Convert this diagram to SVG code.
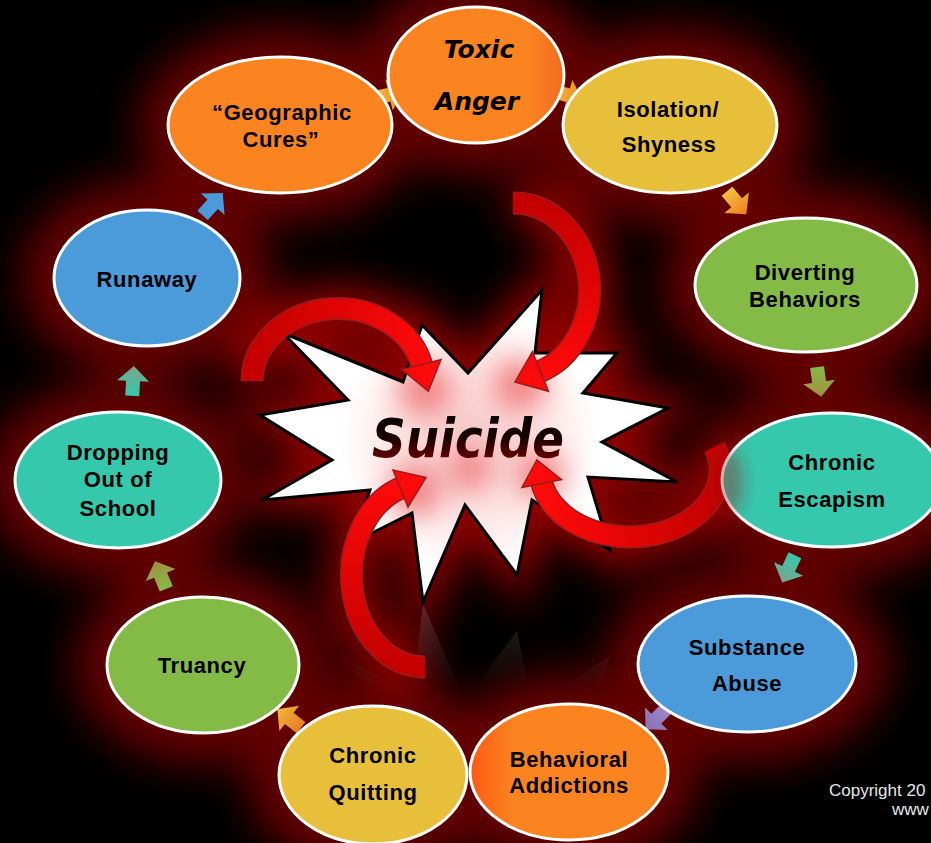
<svg xmlns="http://www.w3.org/2000/svg" width="931" height="843" viewBox="0 0 931 843">
  <style>
    .node-shape { stroke: #ffffff; stroke-width: 3; }
    .label { font-family: "Liberation Sans", Arial, sans-serif; font-weight: bold; font-size: 22px; fill: #000000; text-anchor: middle; letter-spacing: 0.6px; }
    .label-hand { font-family: "DejaVu Sans", sans-serif; font-weight: bold; font-style: italic; font-size: 25px; fill: #000000; text-anchor: middle; }
    .copy { font-family: "Liberation Sans", Arial, sans-serif; font-size: 17px; fill: #e6e6e6; }
    .band-edge { fill: none; stroke: #9a1c1c; stroke-width: 23; }
    .head-edge { stroke: #9a1c1c; stroke-width: 1.5; }
  </style>
  <defs>
    <filter id="soft" x="-50%" y="-50%" width="200%" height="200%">
      <feGaussianBlur stdDeviation="20"/>
    </filter>
    <filter id="softer" x="-50%" y="-50%" width="200%" height="200%">
      <feGaussianBlur stdDeviation="9"/>
    </filter>
    <filter id="blush" x="-100%" y="-100%" width="300%" height="300%">
      <feGaussianBlur stdDeviation="14"/>
    </filter>
    <polygon id="burst" points="283,333 403,382 422,325 468,373 542,290 535,353 617,353 583,393 668,408 602,442 677,482 588,477 610,550 532,500 517,575 465,505 423,602 412,513 352,543 370,490 262,500 332,460 260,415 348,400"/>
    <clipPath id="burstClip"><use href="#burst"/></clipPath>
    <path id="blk" d="M0,-16 L16,-1 L7,-1 L7,14 L-7,14 L-7,-1 L-16,-1 Z"/>
    <radialGradient id="burstFill" cx="470" cy="440" r="130" gradientUnits="userSpaceOnUse">
      <stop offset="0" stop-color="#f7c6c6"/>
      <stop offset="0.6" stop-color="#fde6e6"/>
      <stop offset="1" stop-color="#ffffff"/>
    </radialGradient>
    <linearGradient id="mirrorFade" x1="0" y1="604" x2="0" y2="690" gradientUnits="userSpaceOnUse">
      <stop offset="0" stop-color="#7a5a5a" stop-opacity="0.45"/>
      <stop offset="1" stop-color="#404040" stop-opacity="0"/>
    </linearGradient>
    <linearGradient id="wordFill" x1="0" y1="405" x2="0" y2="460" gradientUnits="userSpaceOnUse">
      <stop offset="0" stop-color="#000000"/>
      <stop offset="0.6" stop-color="#1a0000"/>
      <stop offset="1" stop-color="#6a0000"/>
    </linearGradient>
    <!-- curved red arrows: dark at the tail, bright at the head -->
    <linearGradient id="redA" x1="513" y1="203" x2="520" y2="382" gradientUnits="userSpaceOnUse">
      <stop offset="0" stop-color="#c40000"/><stop offset="1" stop-color="#ff0a0a"/>
    </linearGradient>
    <linearGradient id="redB" x1="252" y1="381" x2="428" y2="391" gradientUnits="userSpaceOnUse">
      <stop offset="0" stop-color="#c40000"/><stop offset="1" stop-color="#ff0a0a"/>
    </linearGradient>
    <linearGradient id="redC" x1="425" y1="667" x2="426" y2="478" gradientUnits="userSpaceOnUse">
      <stop offset="0" stop-color="#c40000"/><stop offset="1" stop-color="#ff0a0a"/>
    </linearGradient>
    <linearGradient id="redD" x1="714" y1="447" x2="537" y2="460" gradientUnits="userSpaceOnUse">
      <stop offset="0" stop-color="#c40000"/><stop offset="1" stop-color="#ff0a0a"/>
    </linearGradient>
    <!-- small block arrows: tail colour to tip colour -->
    <linearGradient id="gOrange" x1="0" y1="1" x2="0" y2="0"><stop offset="0" stop-color="#f0c23c"/><stop offset="1" stop-color="#f07e22"/></linearGradient>
    <linearGradient id="gYellowOrange" x1="0" y1="1" x2="0" y2="0"><stop offset="0" stop-color="#ec7c24"/><stop offset="1" stop-color="#f0b83c"/></linearGradient>
    <linearGradient id="gGreen" x1="0" y1="1" x2="0" y2="0"><stop offset="0" stop-color="#84bb46"/><stop offset="1" stop-color="#a48c42"/></linearGradient>
    <linearGradient id="gTeal" x1="0" y1="1" x2="0" y2="0"><stop offset="0" stop-color="#36c8ac"/><stop offset="1" stop-color="#7aa48c"/></linearGradient>
    <linearGradient id="gPurple" x1="0" y1="1" x2="0" y2="0"><stop offset="0" stop-color="#9a88c8"/><stop offset="1" stop-color="#8a70b4"/></linearGradient>
    <linearGradient id="gBlue" x1="0" y1="1" x2="0" y2="0"><stop offset="0" stop-color="#4a9ad8"/><stop offset="1" stop-color="#4c9ada"/></linearGradient>
    <linearGradient id="fillAddictions" x1="0" y1="0" x2="1" y2="0">
      <stop offset="0" stop-color="#fe5a12"/><stop offset="0.22" stop-color="#fb8420"/><stop offset="1" stop-color="#fb8420"/>
    </linearGradient>
    <linearGradient id="fillAnger" x1="0" y1="0" x2="1" y2="0">
      <stop offset="0" stop-color="#fb8420"/><stop offset="0.8" stop-color="#fb8420"/><stop offset="1" stop-color="#f36a22"/>
    </linearGradient>
  </defs>

  <!-- backdrop -->
  <rect x="0" y="0" width="931" height="843" fill="#000000"/>

  <!-- dark red halo behind every shape -->
  <g id="halo" filter="url(#soft)">
    <g fill="#620000">
      <ellipse cx="476" cy="75" rx="120" ry="100"/>
      <ellipse cx="280" cy="125" rx="142" ry="98"/>
      <ellipse cx="670" cy="125" rx="140" ry="100"/>
      <ellipse cx="806" cy="285" rx="144" ry="100"/>
      <ellipse cx="832" cy="480" rx="142" ry="100"/>
      <ellipse cx="747" cy="664" rx="142" ry="100"/>
      <ellipse cx="569" cy="772" rx="132" ry="100"/>
      <ellipse cx="373" cy="775" rx="128" ry="100"/>
      <ellipse cx="203" cy="665" rx="128" ry="100"/>
      <ellipse cx="118" cy="480" rx="134" ry="100"/>
      <ellipse cx="147" cy="278" rx="126" ry="100"/>
    </g>
    <use href="#burst" fill="#800000" stroke="#900000" stroke-width="30"/>
    <g fill="none" stroke="#960000" stroke-width="44">
      <path d="M513,203 A76,87 0 0 1 539,372"/>
      <path d="M252,381 A86,73 0 0 1 422,366"/>
      <path d="M425,667 A73,92 0 0 1 402,487.5"/>
      <path d="M714.6,447 A90,67 0 1 1 541.4,481.6"/>
    </g>
  </g>

  <!-- central burst with its faded mirror image -->
  <g id="suicide">
    <polygon points="283,873 403,824 422,881 468,833 542,916 535,853 617,853 583,813 668,798 602,764 677,724 588,729 610,656 532,706 517,631 465,701 423,604 412,693 352,663 370,716 262,706 332,746 260,791 348,806" fill="url(#mirrorFade)"/>
    <use href="#burst" fill="url(#burstFill)"/>
    <g clip-path="url(#burstClip)" filter="url(#blush)" fill="#ee6a6a" opacity="0.8">
      <circle cx="425" cy="390" r="26"/>
      <circle cx="520" cy="385" r="26"/>
      <circle cx="415" cy="490" r="26"/>
      <circle cx="540" cy="475" r="24"/>
      <circle cx="470" cy="470" r="20"/>
    </g>
    <use href="#burst" fill="none" stroke="#000000" stroke-width="3" stroke-linejoin="miter"/>
    <text x="372" y="457" font-family="'DejaVu Sans', sans-serif" font-weight="bold" font-style="italic" font-size="54" textLength="192" lengthAdjust="spacingAndGlyphs" fill="url(#wordFill)">Suicide</text>
  </g>

  <g id="connectors">
    <!-- curved arrows converging on the burst -->
    <g id="arrow-top">
      <path class="band-edge" d="M513,203 A76,87 0 0 1 539,372"/>
      <path d="M513,203 A76,87 0 0 1 539,372" fill="none" stroke="url(#redA)" stroke-width="20"/>
      <polygon class="head-edge" points="532.5,351.7 515,382 548.5,391.3" fill="url(#redA)"/>
    </g>
    <g id="arrow-left">
      <path class="band-edge" d="M252,381 A86,73 0 0 1 422,366"/>
      <path d="M252,381 A86,73 0 0 1 422,366" fill="none" stroke="url(#redB)" stroke-width="20"/>
      <polygon class="head-edge" points="441,359.5 428.3,391.2 402,369.5" fill="url(#redB)"/>
    </g>
    <g id="arrow-bottom">
      <path class="band-edge" d="M425,667 A73,92 0 0 1 402,487.5"/>
      <path d="M425,667 A73,92 0 0 1 402,487.5" fill="none" stroke="url(#redC)" stroke-width="20"/>
      <polygon class="head-edge" points="408,507 426,477.6 393,470" fill="url(#redC)"/>
    </g>
    <g id="arrow-right">
      <path class="band-edge" d="M714.6,447 A90,67 0 1 1 541.4,481.6"/>
      <path d="M714.6,447 A90,67 0 1 1 541.4,481.6" fill="none" stroke="url(#redD)" stroke-width="20"/>
      <polygon class="head-edge" points="561.5,479.5 536.9,460 522,487.5" fill="url(#redD)"/>
    </g>

    <!-- block arrows around the cycle -->
    <use href="#blk" fill="url(#gOrange)" transform="translate(388,95) rotate(77)"/>
    <use href="#blk" fill="url(#gOrange)" transform="translate(567,95) rotate(106)"/>
    <use href="#blk" fill="url(#gOrange)" transform="translate(736,202) rotate(140)"/>
    <use href="#blk" fill="url(#gGreen)" transform="translate(819,381) rotate(172)"/>
    <use href="#blk" fill="url(#gTeal)" transform="translate(789,568) rotate(205)"/>
    <use href="#blk" fill="url(#gPurple)" transform="translate(657,718) rotate(225)"/>
    <use href="#blk" fill="url(#gYellowOrange)" transform="translate(290,719) rotate(-52)"/>
    <use href="#blk" fill="url(#gGreen)" transform="translate(161,576) rotate(-22)"/>
    <use href="#blk" fill="url(#gTeal)" transform="translate(133,382) rotate(3)"/>
    <use href="#blk" fill="url(#gBlue)" transform="translate(212,205) rotate(42)"/>
  </g>

  <g id="toxic-anger">
    <ellipse class="node-shape" cx="476" cy="75" rx="88" ry="68" fill="url(#fillAnger)"/>
    <text class="label-hand" x="479" y="58">Toxic</text>
    <text class="label-hand" x="477" y="110">Anger</text>
  </g>
  <g id="geographic-cures">
    <ellipse class="node-shape" cx="280" cy="125" rx="112" ry="68" fill="#fb8420"/>
    <text class="label" x="282" y="120">“Geographic</text>
    <text class="label" x="281" y="147">Cures”</text>
  </g>
  <g id="isolation-shyness">
    <ellipse class="node-shape" cx="670" cy="125" rx="107" ry="68" fill="#e8bf3b"/>
    <text class="label" x="668" y="117">Isolation/</text>
    <text class="label" x="669" y="152">Shyness</text>
  </g>
  <g id="diverting-behaviors">
    <ellipse class="node-shape" cx="806" cy="285" rx="111" ry="67" fill="#84bb46"/>
    <text class="label" x="805" y="280">Diverting</text>
    <text class="label" x="805" y="307">Behaviors</text>
  </g>
  <g id="chronic-escapism">
    <ellipse class="node-shape" cx="832" cy="480" rx="110" ry="67" fill="#36c8ac"/>
    <ellipse cx="728" cy="482" rx="14" ry="34" fill="#a01818" opacity="0.45" filter="url(#softer)"/>
    <text class="label" x="832" y="470">Chronic</text>
    <text class="label" x="832" y="507">Escapism</text>
  </g>
  <g id="substance-abuse">
    <ellipse class="node-shape" cx="747" cy="664" rx="109" ry="68" fill="#4b9bdb"/>
    <text class="label" x="747" y="655">Substance</text>
    <text class="label" x="747" y="691">Abuse</text>
  </g>
  <g id="behavioral-addictions">
    <ellipse class="node-shape" cx="569" cy="772" rx="99" ry="68" fill="url(#fillAddictions)"/>
    <text class="label" x="569" y="767">Behavioral</text>
    <text class="label" x="569" y="793">Addictions</text>
  </g>
  <g id="chronic-quitting">
    <ellipse class="node-shape" cx="373" cy="775" rx="94" ry="69" fill="#e8bf3b"/>
    <text class="label" x="373" y="763">Chronic</text>
    <text class="label" x="373" y="800">Quitting</text>
  </g>
  <g id="truancy">
    <ellipse class="node-shape" cx="203" cy="665" rx="96" ry="68" fill="#84bb46"/>
    <text class="label" x="202" y="673">Truancy</text>
  </g>
  <g id="dropping-out">
    <ellipse class="node-shape" cx="118" cy="480" rx="103" ry="68" fill="#36c8ac"/>
    <text class="label" x="118" y="460">Dropping</text>
    <text class="label" x="118" y="487">Out of</text>
    <text class="label" x="118" y="516">School</text>
  </g>
  <g id="runaway">
    <ellipse class="node-shape" cx="147" cy="278" rx="93" ry="68" fill="#4b9bdb"/>
    <text class="label" x="147" y="287">Runaway</text>
  </g>

  <text class="copy" x="829" y="796">Copyright 20</text>
  <text class="copy" x="892" y="815">www</text>
</svg>
